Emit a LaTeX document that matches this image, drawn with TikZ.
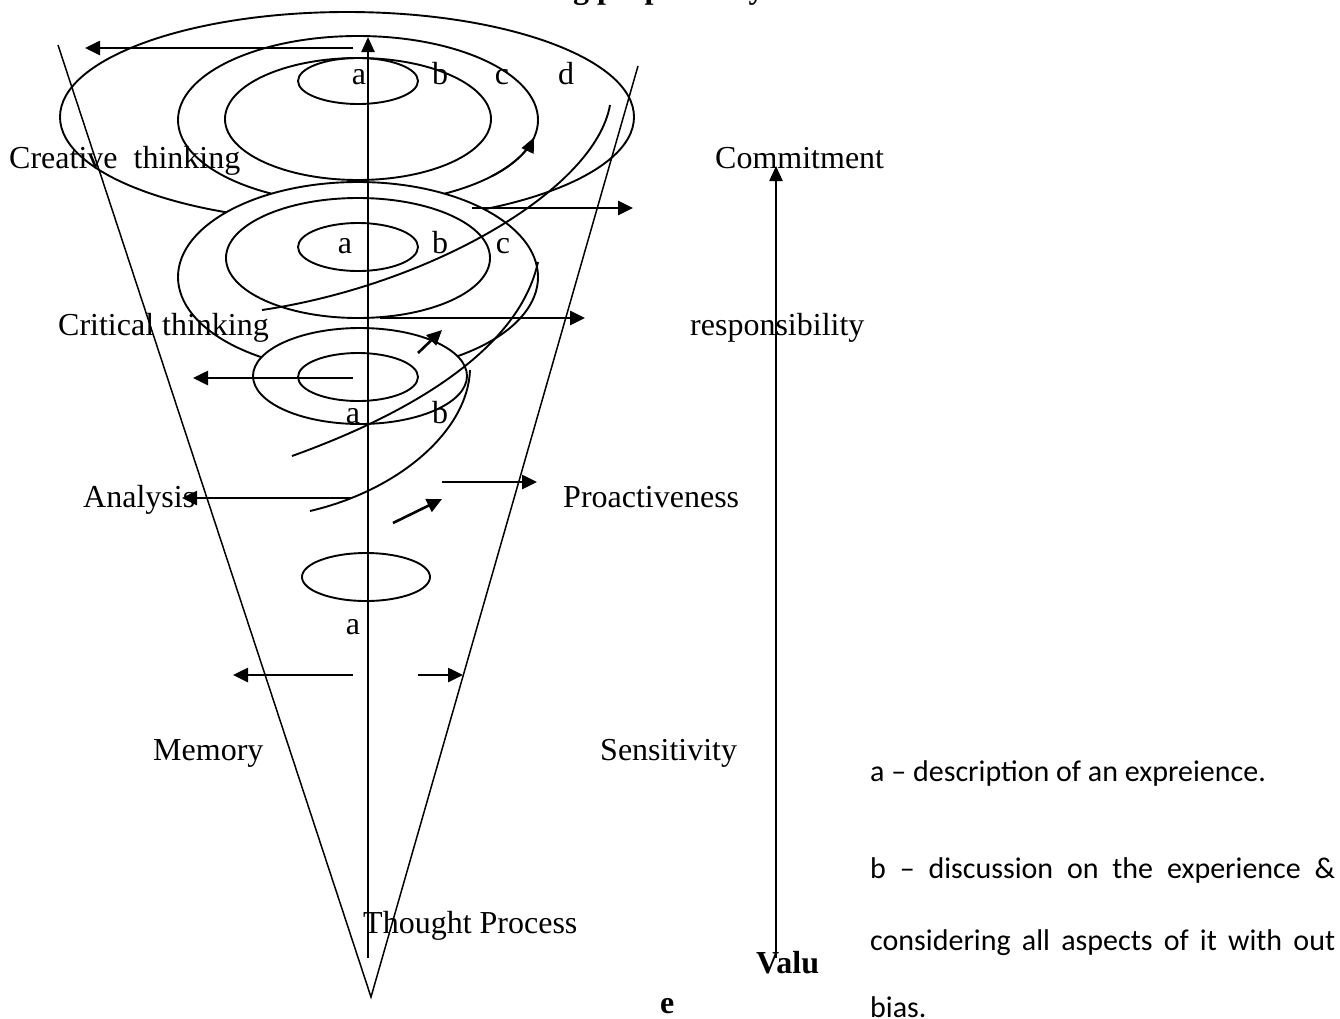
\documentclass[tikz,border=0pt]{standalone}
\usepackage{fontspec}
\setmainfont{Liberation Serif}
\newfontfamily\legendfont{Carlito}
\usetikzlibrary{arrows.meta}
\begin{document}
\begin{tikzpicture}[x=1pt,y=-1pt,
  ring/.style={line width=1.9pt},
  conel/.style={line width=1.5pt},
  arr/.style={line width=2.6pt,-{Triangle[length=15pt,width=14pt]}},
  spiral/.style={line width=1.9pt},
  lbl/.style={font=\fontsize{32}{36}\selectfont, inner sep=0pt, anchor=base west},
  let/.style={font=\fontsize{32}{36}\selectfont, inner sep=0pt, anchor=base},
  leg/.style={font=\legendfont\fontsize{30}{36}\selectfont, inner sep=0pt, anchor=base west}
]
\useasboundingbox (0,0) rectangle (1340,1018);
\begin{scope}
\clip (0,0) rectangle (1340,1018);
% title (mostly cut off)
\node[lbl, font=\bfseries\fontsize{32}{36}\selectfont] (title) at (210,-1.5) {Model of reflective thinking proposed by the researcher};

% tier 1
\draw[ring] (347,117) ellipse [x radius=287, y radius=105];
\draw[ring] (358,120) ellipse [x radius=180, y radius=84];
\draw[ring, -{Triangle[length=15pt,width=13pt]}] plot[domain=42:12, samples=16, smooth] ({358+180*cos(\x)},{120+84*sin(\x)});
\draw[ring] (358,119) ellipse [x radius=133, y radius=61];
\draw[ring] (358,81) ellipse [x radius=60, y radius=23];

% tier 2
\filldraw[ring, fill=white] (358,277) ellipse [x radius=180, y radius=95];
\draw[ring] (358,258) ellipse [x radius=132, y radius=60];
\draw[ring] (358,247) ellipse [x radius=60, y radius=24];

% tier 3
\filldraw[ring, fill=white] (360,376) ellipse [x radius=107, y radius=48];
\draw[ring] (358,377) ellipse [x radius=60, y radius=24];

% tier 4
\draw[ring] (366,577) ellipse [x radius=64, y radius=24];

% cone
\coordinate (apex) at (371,997);
\coordinate (coneL) at (58,45);
\coordinate (coneR) at (638,66);
\draw[conel] (coneL) -- (apex) -- (coneR);

% spirals
\draw[spiral] (610,105) .. controls (595,190) and (430,285) .. (262,310);
\draw[spiral] (538,262) .. controls (520,345) and (420,410) .. (292,456);
\draw[spiral] (470,370) .. controls (468,430) and (400,490) .. (310,511);

% axis
\coordinate (axB) at (368,958);
\coordinate (axT) at (368,37);
\draw[line width=2.4pt, -{Triangle[length=15pt,width=13pt]}] (axB) -- (axT);

% value arrow
\coordinate (vB) at (776,958);
\coordinate (vT) at (776,166);
\draw[line width=2.4pt, -{Triangle[length=15pt,width=13pt]}] (vB) -- (vT);

% horizontal arrows
\coordinate (a1s) at (353,48);  \coordinate (a1e) at (85,48);
\draw[arr] (a1s) -- (a1e);
\coordinate (a2s) at (472,208); \coordinate (a2e) at (633,208);
\draw[arr] (a2s) -- (a2e);
\coordinate (a3s) at (380,318); \coordinate (a3e) at (585,318);
\draw[arr] (a3s) -- (a3e);
\coordinate (a4s) at (353,378); \coordinate (a4e) at (193,378);
\draw[arr] (a4s) -- (a4e);
\coordinate (a5s) at (418,353); \coordinate (a5e) at (442,330);
\draw[arr] (a5s) -- (a5e);
\coordinate (a6s) at (442,482); \coordinate (a6e) at (537,482);
\draw[arr] (a6s) -- (a6e);
\coordinate (a7s) at (352,498); \coordinate (a7e) at (182,498);
\draw[arr] (a7s) -- (a7e);
\coordinate (a8s) at (393,523); \coordinate (a8e) at (442,499);
\draw[arr] (a8s) -- (a8e);
\coordinate (a9s) at (353,675); \coordinate (a9e) at (233,675);
\draw[arr] (a9s) -- (a9e);
\coordinate (a10s) at (418,675); \coordinate (a10e) at (463,675);
\draw[arr] (a10s) -- (a10e);

% ring letters
\node[let] (t1a) at (359,84) {a};
\node[let] (t1b) at (440,84) {b};
\node[let] (t1c) at (502,84) {c};
\node[let] (t1d) at (566,84) {d};
\node[let] (t2a) at (345,253) {a};
\node[let] (t2b) at (440,253) {b};
\node[let] (t2c) at (503,253) {c};
\node[let] (t3a) at (353,423) {a};
\node[let] (t3b) at (440,423) {b};
\node[let] (t4a) at (353,634) {a};

% side labels
\node[lbl] (creative) at (9,168) {Creative\hspace{0.5em}thinking};
\node[lbl] (commit) at (715,168) {Commitment};
\node[lbl] (critical) at (58,335) {Critical thinking};
\node[lbl] (resp) at (690,335) {responsibility};
\node[lbl] (analysis) at (83,507) {Analysis};
\node[lbl] (proact) at (563,507) {Proactiveness};
\node[lbl] (memory) at (153,760) {Memory};
\node[lbl] (sens) at (600,760) {Sensitivity};
\node[lbl] (thought) at (363,933) {Thought Process};
\node[lbl, font=\bfseries\fontsize{32}{36}\selectfont] (valu) at (756,973) {Valu};
\node[lbl, font=\bfseries\fontsize{32}{36}\selectfont] (vale) at (660,1013) {e};

% legend
\node[leg] (lega) at (870,781) {a – description of an expreience.};
\node[leg] (legb) at (870,878) {\makebox[465pt][s]{b – discussion on the experience \&}};
\node[leg] (legc) at (870,950) {\makebox[465pt][s]{considering all aspects of it with out}};
\node[leg] (legd) at (870,1017) {bias.};
\end{scope}
\end{tikzpicture}
\end{document}
